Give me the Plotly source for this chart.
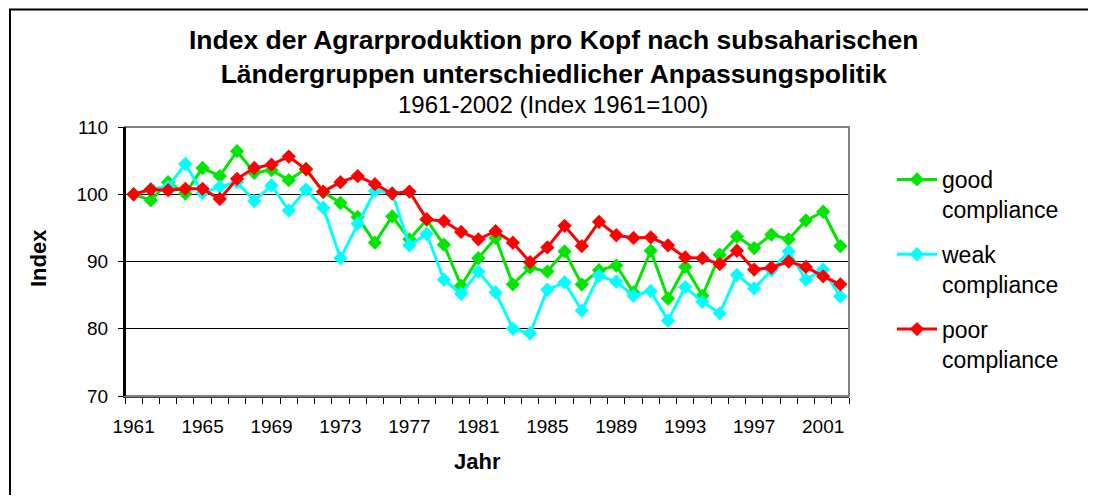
import plotly.graph_objects as go

years = list(range(1961, 2003))

good = [100, 99.1, 101.8, 100.1, 103.9, 102.7, 106.4, 103.2, 103.6, 102.1,
        103.8, 100.3, 98.7, 96.6, 92.8, 96.7, 93.3, 96.2, 92.5, 86.4,
        90.5, 93.5, 86.6, 89.1, 88.5, 91.5, 86.6, 88.7, 89.4, 85.4,
        91.6, 84.5, 89.2, 84.9, 91.0, 93.7, 92.0, 94.0, 93.3, 96.1,
        97.4, 92.3]

weak = [100, 100.8, 101.1, 104.5, 100.2, 101.1, 101.8, 99.0, 101.3, 97.6,
        100.7, 98.0, 90.5, 95.6, 100.5, 100.2, 92.4, 94.1, 87.3, 85.2,
        88.5, 85.4, 80.0, 79.3, 85.8, 86.9, 82.7, 87.9, 87.0, 84.9,
        85.6, 81.2, 86.2, 84.0, 82.3, 88.0, 86.0, 88.7, 91.5, 87.3,
        88.8, 84.8]

poor = [100, 100.7, 100.6, 100.8, 100.8, 99.3, 102.3, 103.9, 104.4, 105.6,
        103.7, 100.4, 101.8, 102.7, 101.5, 100.1, 100.4, 96.3, 96.0, 94.4,
        93.3, 94.5, 92.8, 89.9, 92.1, 95.3, 92.3, 95.9, 93.9, 93.5,
        93.6, 92.4, 90.6, 90.5, 89.6, 91.6, 88.8, 89.1, 90.0, 89.2,
        87.8, 86.6]

series_names = ["good<br>compliance", "weak<br>compliance", "poor<br>compliance"]
series_colors = ["#00E600", "#00FFFF", "#FF0000"]
series_values = [good, weak, poor]

tick_years = list(range(1961, 2002, 4))
tick_labels = [str(y) for y in tick_years]

FONT = "Liberation Sans, Arial, sans-serif"

fig = go.Figure()
for i, (name, col, vals) in enumerate(zip(series_names, series_colors, series_values)):
    fig.add_trace(go.Scatter(
        x=years, y=vals, name=name, mode="lines+markers",
        line=dict(color=col, width=3),
        marker=dict(symbol="diamond", size=11, color=col),
        legendgroup=str(i),
    ))

# the page body has an 8px default margin, so work in page coords minus 8
OFF = 8
W, H = 1096 - 2 * OFF, 503 - 2 * OFF
L, R, T, B = 125 - OFF, 849 - OFF, 127 - OFF, 396 - OFF
pw, ph = R - L, B - T

def px(x):
    return (x - OFF - L) / pw

def py(y):
    return (B - (y - OFF)) / ph

fig.update_layout(
    width=W, height=H,
    margin=dict(l=L, r=W - R, t=T, b=H - B, pad=0),
    paper_bgcolor="white", plot_bgcolor="white",
    font=dict(family=FONT, color="black", size=19),
    showlegend=True,
    legend=dict(
        x=px(892), y=py(158), xanchor="left", yanchor="top",
        font=dict(size=23, family=FONT, color="black"),
        tracegroupgap=12, itemwidth=40, valign="top",
        bgcolor="rgba(0,0,0,0)",
    ),
    xaxis=dict(
        range=[1960.5, 2002.5],
        tickmode="array", tickvals=tick_years, ticktext=tick_labels,
        ticks="", showgrid=False, zeroline=False,
        showline=True, linecolor="#404040", linewidth=2,
        tickfont=dict(size=19, family=FONT, color="black"),
        ticklabelstandoff=12,
        minor=dict(ticks="outside", tick0=1960.5, dtick=1, ticklen=6,
                   tickcolor="black", tickwidth=1, showgrid=False),
    ),
    yaxis=dict(
        range=[70, 110], tickmode="array", tickvals=[70, 80, 90, 100, 110],
        ticks="outside", ticklen=5, tickcolor="black", tickwidth=1,
        showgrid=True, gridcolor="black", gridwidth=1, zeroline=False,
        showline=True, linecolor="black", linewidth=2,
        tickfont=dict(size=19, family=FONT, color="black"),
        ticklabelstandoff=6,
    ),
    shapes=[
        dict(type="rect", xref="paper", yref="paper", x0=0, x1=1, y0=0, y1=1,
             line=dict(color="#808080", width=2), layer="above"),
        dict(type="line", xref="paper", yref="paper", x0=0, x1=0, y0=0, y1=1,
             line=dict(color="black", width=2), layer="above"),
        dict(type="rect", xref="paper", yref="paper",
             x0=px(10), x1=px(1120), y0=py(9.5), y1=py(530),
             line=dict(color="black", width=2), layer="above"),
    ],
    annotations=[
        dict(text="<b>Index der Agrarproduktion pro Kopf nach subsaharischen<br>Ländergruppen unterschiedlicher Anpassungspolitik</b>",
             xref="paper", yref="paper", x=px(553), y=py(56.5),
             xanchor="center", yanchor="middle", showarrow=False,
             font=dict(size=26.5, family=FONT, color="black")),
        dict(text="1961-2002 (Index 1961=100)",
             xref="paper", yref="paper", x=px(553), y=py(104),
             xanchor="center", yanchor="middle", showarrow=False,
             font=dict(size=24, family=FONT, color="black")),
        dict(text="<b>Jahr</b>", xref="paper", yref="paper",
             x=px(477), y=py(461), xanchor="center", yanchor="middle",
             showarrow=False, font=dict(size=22, family=FONT, color="black")),
        dict(text="<b>Index</b>", xref="paper", yref="paper",
             x=px(38), y=py(258), xanchor="center", yanchor="middle",
             textangle=-90, showarrow=False,
             font=dict(size=22, family=FONT, color="black")),
    ],
)

fig.write_html("out.html")
